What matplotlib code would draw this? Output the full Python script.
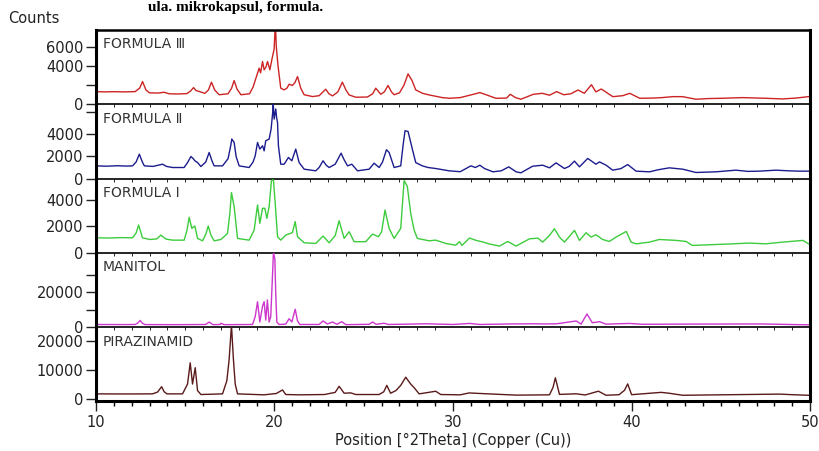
import matplotlib
matplotlib.use("Agg")
import matplotlib.pyplot as plt
from matplotlib.ticker import MultipleLocator

plt.rcParams['font.family'] = ['DejaVu Sans']

# FORMULA III
f3_x = [10.0, 10.5, 11.0, 11.6, 12.2, 12.45, 12.61, 12.8, 13.0, 13.5, 13.82, 14.1, 14.6, 15.1, 15.3,
        15.47, 15.6, 15.69, 15.85, 16.1, 16.3, 16.47, 16.65, 16.9, 17.4, 17.6, 17.74, 17.9, 18.12, 18.6,
        18.8, 18.96, 19.14, 19.22, 19.33, 19.42, 19.52, 19.61, 19.74, 19.85, 19.98, 20.05, 20.1, 20.2,
        20.35, 20.54, 20.7, 20.82, 21.0, 21.15, 21.29, 21.47, 21.66, 22.13, 22.5, 22.87, 23.05, 23.25,
        23.55, 23.8, 24.0, 24.18, 24.55, 25.2, 25.5, 25.67, 25.95, 26.15, 26.36, 26.55, 26.7, 27.0,
        27.25, 27.48, 27.7, 27.91, 28.28, 28.66, 29.4, 29.8, 30.4, 31.0, 31.5, 31.85, 32.4, 33.0, 33.2,
        33.5, 33.8, 34.5, 35.0, 35.4, 35.8, 36.2, 36.6, 37.0, 37.35, 37.75, 38.0, 38.3, 38.95, 39.5,
        39.9, 40.45, 41.2, 41.7, 42.3, 42.85, 43.6, 44.3, 45.1, 46.2, 47.5, 48.45, 49.2, 49.9]
f3_y = [1330, 1300, 1320, 1300, 1330, 1700, 2390, 1500, 1200, 1180, 1260, 1100, 1080, 1120, 1400,
        1750, 1450, 1400, 1300, 1150, 1500, 2320, 1500, 1000, 1100, 1700, 2490, 1600, 1000, 1100,
        1800, 2740, 3790, 3300, 4490, 3620, 3900, 4490, 3620, 4670, 5800, 8600, 6070, 4000,
        1690, 1510, 1700, 2110, 1970, 2300, 2910, 1690, 1000, 810, 900, 1580, 1100, 880,
        1300, 2320, 1500, 980, 740, 760, 1100, 1690, 1050, 1300, 1970, 1300, 1000, 1200,
        2000, 3190, 2500, 1510, 1160, 980, 700, 630, 700, 980, 1230, 1000, 630, 650, 1050,
        700, 530, 1050, 1150, 950, 1330, 1000, 1100, 1500, 1150, 2050, 1300, 1600, 800, 900,
        1150, 630, 650, 700, 800, 800, 530, 600, 630, 700, 630, 560, 650, 800]

# FORMULA II
f2_x = [10.0, 10.6, 11.2, 11.7, 12.05, 12.25, 12.43, 12.6, 12.71, 13.2, 13.73, 13.95, 14.29, 14.94,
        15.15, 15.32, 15.45, 15.54, 15.69, 15.88, 16.15, 16.34, 16.5, 16.62, 17.09, 17.4, 17.55, 17.61,
        17.74, 17.85, 18.02, 18.58, 18.8, 18.92, 19.05, 19.18, 19.33, 19.42, 19.51, 19.7, 19.81, 19.9,
        19.93, 19.98, 20.07, 20.12, 20.17, 20.22, 20.35, 20.54, 20.78, 20.97, 21.19, 21.38, 21.66,
        22.31, 22.5, 22.72, 22.9, 23.06, 23.4, 23.73, 23.9, 24.09, 24.33, 24.65, 25.3, 25.58, 25.86,
        26.05, 26.27, 26.42, 26.7, 27.07, 27.2, 27.31, 27.48, 27.72, 27.91, 28.28, 28.6, 29.03, 29.78,
        30.4, 31.0, 31.25, 31.5, 31.76, 32.23, 32.7, 33.12, 33.53, 33.8, 34.46, 35.02, 35.4, 35.77,
        36.24, 36.5, 36.8, 37.08, 37.54, 37.82, 38.0, 38.2, 38.57, 38.94, 39.4, 39.78, 40.25, 41.0,
        41.5, 42.11, 42.86, 43.6, 44.73, 45.84, 46.5, 47.15, 48.08, 48.8, 49.39, 49.91]
f2_y = [1150, 1120, 1160, 1130, 1150, 1500, 2210, 1500, 1150, 1100, 1300, 1100, 1000, 1000,
        1500, 2000, 1800, 1610, 1450, 1090, 1500, 2360, 1600, 1150, 1150, 1800, 3000, 3580,
        3270, 2000, 1150, 1000, 1500, 2060, 3270, 2670, 2970, 2510, 3420, 3580, 4480, 6000,
        6750, 5390, 6300, 5500, 5090, 2970, 1300, 1300, 1910, 1610, 2670, 1450, 850,
        700, 1000, 1610, 1200, 1000, 1300, 2300, 1700, 1150, 1300, 700, 850, 1390, 1000,
        1500, 2610, 2360, 1000, 1150, 3000, 4330, 4270, 2670, 1450, 1150, 1000, 910, 700,
        620, 1150, 1000, 1210, 910, 610, 700, 1060, 610, 520, 1120, 1210, 970, 1420,
        910, 1100, 1580, 1060, 1820, 1510, 1300, 1510, 1210, 760, 900, 1270, 670, 610,
        800, 970, 850, 550, 610, 760, 650, 670, 760, 700, 670, 670]

# FORMULA I
f1_x = [10.0, 10.7, 11.4, 11.9, 12.05, 12.25, 12.39, 12.55, 12.6, 13.0, 13.4, 13.64, 13.92, 14.29,
        14.94, 15.1, 15.22, 15.37, 15.54, 15.69, 15.97, 16.15, 16.29, 16.44, 16.62, 17.0, 17.37, 17.5,
        17.59, 17.74, 17.93, 18.58, 18.86, 19.05, 19.18, 19.33, 19.46, 19.57, 19.7, 19.83, 19.94, 20.04,
        20.17, 20.35, 20.63, 20.88, 21.0, 21.16, 21.29, 21.66, 22.31, 22.72, 23.06, 23.4, 23.62, 23.9,
        24.18, 24.46, 25.11, 25.49, 25.82, 26.0, 26.19, 26.42, 26.7, 27.07, 27.26, 27.44, 27.63, 27.82,
        28.0, 28.66, 29.03, 29.59, 30.15, 30.36, 30.5, 30.92, 31.3, 31.7, 32.0, 32.6, 33.06, 33.53,
        34.28, 34.75, 35.02, 35.4, 35.68, 35.96, 36.24, 36.8, 37.08, 37.45, 37.73, 38.0, 38.38, 38.75,
        39.13, 39.7, 39.97, 40.25, 41.0, 41.55, 42.5, 43.05, 43.4, 44.35, 45.65, 46.6, 47.5, 48.45,
        49.6, 49.9]
f1_y = [1140, 1120, 1150, 1140, 1140, 1500, 2100, 1400, 1140, 1010, 1050, 1340, 1040, 960,
        960, 1700, 2690, 1850, 2030, 1090, 910, 1400, 2030, 1340, 910, 1010, 1470, 3000,
        4560, 3500, 1090, 960, 1720, 3620, 2230, 3370, 3370, 2610, 3500, 5470, 5520, 3750,
        1220, 960, 1340, 1470, 1520, 2360, 1220, 760, 710, 1270, 760, 1300, 2430, 1090,
        1600, 840, 840, 1420, 1220, 1600, 3240, 1850, 1090, 1850, 5470, 5020, 2990, 1720,
        1090, 910, 960, 710, 580, 840, 560, 1120, 940, 810, 680, 510, 860, 510,
        1060, 1110, 810, 1320, 1820, 1190, 810, 1700, 940, 1520, 1190, 1370, 1010, 860,
        1190, 1620, 810, 680, 810, 1010, 940, 860, 560, 610, 680, 740, 680, 810,
        940, 690]

# MANITOL
mn_x = [10.0, 11.5, 12.2, 12.35, 12.48, 12.6, 12.75, 14.5, 16.15, 16.34, 16.55, 16.95, 17.0, 17.18,
        18.77, 18.92, 19.05, 19.18, 19.33, 19.42, 19.51, 19.6, 19.7, 19.79, 19.89, 19.94, 20.02, 20.07,
        20.13, 20.26, 20.63, 20.82, 20.97, 21.16, 21.29, 21.42, 22.5, 22.72, 22.96, 23.25, 23.5, 23.77,
        23.99, 25.3, 25.49, 25.7, 26.13, 26.4, 27.45, 28.47, 30.0, 30.92, 31.5, 33.2, 34.5, 35.2,
        35.8, 36.9, 37.17, 37.5, 37.8, 38.2, 38.57, 39.9, 40.6, 42.5, 47.25, 49.9]
mn_y = [1500, 1450, 1500, 2400, 3800, 2200, 1450, 1400, 1500, 2900, 1400, 1500, 2200, 1400,
        1500, 6000, 14500, 2900, 12000, 14500, 4000, 15500, 2900, 6000, 30000, 42500, 39000, 19000,
        2900, 1500, 1700, 4800, 2900, 10200, 3500, 1500, 1500, 3500, 1800, 2900, 1600, 3100,
        1400, 1600, 2900, 1600, 2200, 1500, 1700, 1900, 1500, 2100, 1500, 1800, 1900, 1800,
        1900, 3500, 1700, 7500, 2500, 3100, 1700, 2100, 1600, 1700, 1800, 1300]

# PIRAZINAMID
pz_x = [10.0, 11.5, 13.17, 13.45, 13.68, 13.82, 13.98, 14.85, 15.13, 15.28, 15.41, 15.56, 15.69,
        15.88, 17.09, 17.33, 17.46, 17.59, 17.7, 17.8, 17.93, 19.42, 19.89, 20.1, 20.45, 20.63, 21.38,
        22.8, 23.4, 23.62, 23.9, 24.27, 24.55, 25.86, 26.12, 26.29, 26.5, 26.8, 27.07, 27.35, 27.63,
        27.82, 28.1, 29.03, 29.31, 30.4, 30.9, 31.57, 33.53, 35.4, 35.6, 35.73, 35.96, 36.9, 37.4,
        38.14, 38.57, 39.3, 39.6, 39.78, 40.0, 41.65, 42.1, 42.86, 48.3, 49.0, 49.9]
pz_y = [1780, 1750, 1780, 2400, 4250, 2500, 1780, 1780, 5150, 12450, 5150, 10760, 2910,
        1560, 1780, 6270, 13570, 25400, 13570, 5150, 1780, 1450, 1780, 1900, 3130, 1560, 1450,
        1560, 2300, 4370, 2010, 2120, 1560, 1560, 2500, 4700, 2000, 2910, 4700, 7500, 5150,
        3920, 1780, 2680, 1560, 1450, 2100, 1900, 1350, 1450, 4000, 7300, 1600, 1800, 1400,
        2700, 1300, 1500, 3000, 5200, 1500, 2300, 2000, 1300, 1700, 1500, 1300]

names = ["FORMULA \u2162", "FORMULA \u2161", "FORMULA I", "MANITOL", "PIRAZINAMID"]
colors = ["#cc2424", "#1c1c8e", "#3ccc3c", "#cc36cc", "#5a1a1a"]
series = [(f3_x, f3_y), (f2_x, f2_y), (f1_x, f1_y), (mn_x, mn_y), (pz_x, pz_y)]
ylims = [(0, 7800), (0, 6730), (0, 5620), (0, 42400), (-800, 24700)]
yticks = [[0, 2000, 4000, 6000], [0, 2000, 4000, 6000], [0, 2000, 4000],
          [0, 10000, 20000, 30000], [0, 10000, 20000]]
ylabels = [["0", "", "4000", "6000"], ["0", "2000", "4000", ""], ["0", "2000", "4000"],
           ["0", "", "20000", ""], ["0", "10000", "20000"]]

fig, axes = plt.subplots(5, 1, sharex=True, figsize=(8.2, 4.51), dpi=100,
                         gridspec_kw={'hspace': 0})
fig.subplots_adjust(left=0.117, right=0.988, top=0.9335, bottom=0.11)

for i, ax in enumerate(axes):
    x, y = series[i]
    ax.patch.set_visible(False)
    ax.plot(x, y, color=colors[i], lw=1.0, zorder=2)
    ax.set_xlim(10, 50)
    ax.set_ylim(ylims[i])
    ax.set_yticks(yticks[i])
    ax.set_yticklabels(ylabels[i])
    ax.tick_params(axis='y', direction='out', length=7, width=1, pad=2,
                   labelsize=10.5, colors='#222222')
    ax.text(0.01, 0.9, names[i], transform=ax.transAxes,
            fontsize=10, color='#333333', va='top', ha='left', zorder=6)
    for s in ax.spines.values():
        s.set_color('black')
        s.set_zorder(5)
    ax.spines['left'].set_linewidth(2.2)
    ax.spines['right'].set_linewidth(2.2)
    ax.spines['bottom'].set_linewidth(1.2)
    if i > 0:
        ax.spines['top'].set_visible(False)
    else:
        ax.spines['top'].set_linewidth(1.8)
    if i < 4:
        ax.tick_params(axis='x', bottom=False, labelbottom=False)

ax = axes[-1]
ax.spines['bottom'].set_linewidth(2.2)
ax.xaxis.set_major_locator(MultipleLocator(10))
ax.xaxis.set_minor_locator(MultipleLocator(1))
ax.tick_params(axis='x', which='major', direction='out', length=7, width=1,
               labelsize=10.5, colors='#222222', pad=3)
ax.tick_params(axis='x', which='minor', direction='out', length=3.5, width=1)
ax.set_xlabel("Position [\u00b02Theta] (Copper (Cu))", fontsize=10.5, color='#222222', labelpad=2)

fig.text(0.01, 0.96, "Counts", fontsize=10.5, color='#222222', ha='left', va='center')
fig.text(0.18, 0.998, "ula. mikrokapsul, formula.", fontsize=11, fontweight='bold',
         family='Liberation Serif', ha='left', va='top')

fig.savefig("out.png", dpi=100)
